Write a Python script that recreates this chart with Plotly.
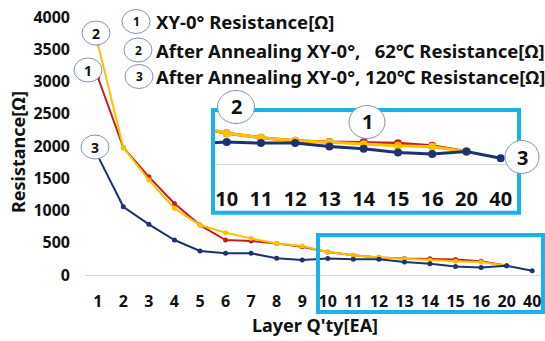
import plotly.graph_objects as go

# ---- data ----
layers = ["1", "2", "3", "4", "5", "6", "7", "8", "9",
          "10", "11", "12", "13", "14", "15", "16", "20", "40"]
res_xy0 = [3070, 1977, 1522, 1110, 774, 542, 526, 490, 438,
           357, 306, 271, 255, 252, 241, 213, 145, None]
res_62c = [3587, 1977, 1471, 1033, 774, 655, 568, 490, 449,
           357, 306, 271, 252, 229, 213, 201, 145, None]
res_120c = [1847, 1057, 785, 542, 372, 336, 336, 259, 232,
            255, 243, 243, 203, 176, 133, 117, 145, 67]
series_names = ["XY-0° Resistance[Ω]",
                "After Annealing XY-0°,   62℃ Resistance[Ω]",
                "After Annealing XY-0°, 120℃ Resistance[Ω]"]
y_ticks = [0, 500, 1000, 1500, 2000, 2500, 3000, 3500, 4000]
inset_start = 8  # inset shows layers from "9" (clipped) onward

colors = ["#C41E1E", "#FFC000", "#1B3370"]
FONT = "Noto Sans"
W, H = 545, 341
L, R, T, B = 85, 0, 17, 66
PW, PH = W - L - R, H - T - B


def px(x):
    return (x - L) / PW


def py(y):
    return (H - B - y) / PH


fig = go.Figure()
series = [res_xy0, res_62c, res_120c]
for name, vals, c in zip(series_names, series, colors):
    fig.add_trace(go.Scatter(x=layers, y=vals, mode="lines+markers", name=name,
                             line=dict(color=c, width=2), marker=dict(color=c, size=5),
                             showlegend=False, xaxis="x", yaxis="y"))
for name, vals, c in zip(series_names, series, colors):
    fig.add_trace(go.Scatter(x=layers[inset_start:], y=vals[inset_start:], mode="lines+markers",
                             name=name, line=dict(color=c, width=3), marker=dict(color=c, size=8),
                             showlegend=False, xaxis="x2", yaxis="y2"))

inset_l, inset_r, inset_t, inset_b = 213, 519, 110, 212.7
inset_axis_b = 183
s = 0.086
zero_y = 164

fig.update_layout(
    width=W, height=H, margin=dict(l=L, r=R, t=T, b=B),
    paper_bgcolor="white", plot_bgcolor="white",
    font=dict(family=FONT, color="#111111"),
    xaxis=dict(type="category", categoryorder="array", categoryarray=layers,
               range=[-0.5, len(layers) - 0.5], showgrid=False, zeroline=False,
               showline=True, linecolor="#D9D9D9", linewidth=1, ticks="",
               ticklabelstandoff=12,
               tickfont=dict(size=16, weight="bold", family=FONT, color="#111111"),
               title=dict(text="Layer Q'ty[EA]", standoff=8,
                          font=dict(size=18, weight="bold", family=FONT, color="#111111"))),
    yaxis=dict(range=[0, 4000], tickvals=y_ticks, showgrid=False, zeroline=False,
               showline=False, ticks="", ticklabelstandoff=14,
               tickfont=dict(size=16, weight="bold", family=FONT, color="#111111")),
    xaxis2=dict(type="category", categoryorder="array", categoryarray=layers[inset_start:],
                range=[0.6, 0.6 + (inset_r - inset_l) / 34.25],
                domain=[px(inset_l), px(inset_r)], anchor="y2",
                showgrid=False, zeroline=False, showline=False, ticks="",
                ticklabelstandoff=2,
                tickfont=dict(size=20, weight="bold", family=FONT, color="#111111")),
    yaxis2=dict(range=[-(inset_axis_b - zero_y) / s, (zero_y - inset_t) / s],
                domain=[py(inset_axis_b), py(inset_t)], anchor="x2",
                showgrid=False, zeroline=True, zerolinecolor="#D9D9D9", zerolinewidth=1,
                showticklabels=False, showline=False, ticks=""),
)

box_col = "#1AB2EA"
shapes = [
    dict(type="rect", xref="paper", yref="paper", x0=px(inset_l), x1=px(inset_r),
         y0=py(inset_b), y1=py(inset_t), line=dict(color=box_col, width=4), layer="above"),
    dict(type="rect", xref="paper", yref="paper", x0=px(318), x1=px(543),
         y0=py(312), y1=py(235), line=dict(color=box_col, width=4), layer="above"),
]
annotations = []


def badge(cx, cy, w, h, label, size):
    shapes.append(dict(type="circle", xref="paper", yref="paper",
                       x0=px(cx - w / 2), x1=px(cx + w / 2), y0=py(cy + h / 2), y1=py(cy - h / 2),
                       line=dict(color="#8095B5", width=1), fillcolor="white", layer="above"))
    annotations.append(dict(x=px(cx), y=py(cy), xref="paper", yref="paper", text=label,
                            showarrow=False, xanchor="center", yanchor="middle",
                            font=dict(size=size, weight="bold", family=FONT, color="#111111")))


# chart badges
badge(96, 33, 28, 24, "2", 14)
badge(88, 70, 28, 24, "1", 14)
badge(95, 147, 28, 24, "3", 14)
# inset badges
badge(236, 107, 37, 33, "2", 20)
badge(367, 122, 36, 33, "1", 20)
badge(522, 157, 34, 33, "3", 20)
# legend
legend_rows = [(136, 21.5), (138, 50), (139, 76.5)]
for i, ((cx, cy), name) in enumerate(zip(legend_rows, series_names)):
    badge(cx, cy, 28, 24, str(i + 1), 12)
    annotations.append(dict(x=px(154), y=py(cy), xref="paper", yref="paper", text=name,
                            showarrow=False, xanchor="left", yanchor="middle",
                            font=dict(size=18.5, weight="bold", family=FONT, color="#111111")))

annotations.append(dict(x=px(18), y=py(152), xref="paper", yref="paper", text="Resistance[Ω]",
                        textangle=-90, showarrow=False, xanchor="center", yanchor="middle",
                        font=dict(size=18, weight="bold", family=FONT, color="#111111")))

fig.update_layout(shapes=shapes, annotations=annotations)
fig.write_html("out.html")
